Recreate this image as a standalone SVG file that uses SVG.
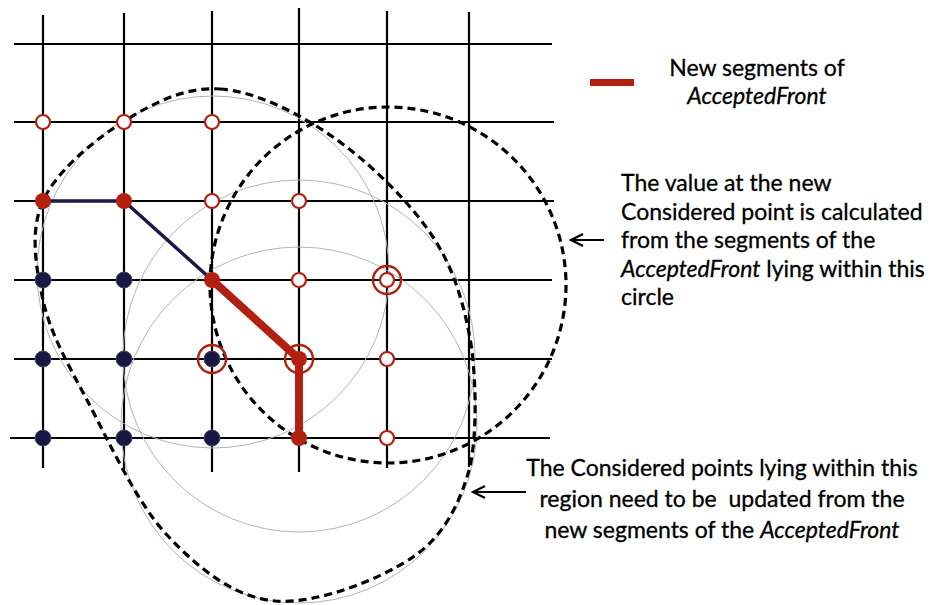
<svg xmlns="http://www.w3.org/2000/svg" width="932" height="605" viewBox="0 0 932 605">
<style>
.grid line{stroke:#000;stroke-width:2.2}
.gray{fill:none;stroke:#b4b4b4;stroke-width:1}
.dash{fill:none;stroke:#000;stroke-width:3.2;stroke-dasharray:8 5}
.open{fill:#fff;stroke:#b3200f;stroke-width:2.2}
.red{fill:#b3200f}
.navy{fill:#1b1744;stroke:#4a4a5a;stroke-width:1}
.ring{fill:none;stroke:#b3200f;stroke-width:2.4}
.txt{font-family:Lato,"Open Sans",sans-serif;font-size:23px;fill:#000;stroke:#000;stroke-width:0.3}
.mid{text-anchor:middle}
.it{font-style:italic}
.arrow{stroke:#000;stroke-width:2.2;fill:none}
</style>
<defs>
<marker id="ah" viewBox="-14 -8 16 16" refX="0" refY="0" markerWidth="16" markerHeight="16" markerUnits="userSpaceOnUse" orient="auto" overflow="visible">
<path d="M-12,-6 L0,0 L-12,6" fill="none" stroke="#000" stroke-width="2.2"/>
</marker>
</defs>
<rect width="932" height="605" fill="#fff"/>
<g id="grid" class="grid">
<line x1="14" y1="44" x2="552" y2="44"/>
<line x1="14" y1="122" x2="554" y2="122"/>
<line x1="14" y1="201" x2="554" y2="201"/>
<line x1="14" y1="280" x2="552" y2="280"/>
<line x1="14" y1="359" x2="552" y2="359"/>
<line x1="10" y1="438" x2="550" y2="438"/>
<line x1="43" y1="15" x2="43" y2="468"/>
<line x1="124" y1="13" x2="124" y2="470"/>
<line x1="212" y1="11" x2="212" y2="472"/>
<line x1="299" y1="8" x2="299" y2="472"/>
<line x1="387" y1="11" x2="387" y2="468"/>
<line x1="469" y1="12" x2="469" y2="467"/>
</g>
<g id="regions">
<circle class="gray" cx="213" cy="272" r="176"/>
<circle class="gray" cx="299" cy="356" r="176"/>
<circle class="gray" cx="299" cy="425" r="178"/>
<path class="dash" d="M220,89 C255,91.5 297.5,112.3 333,137 C368.5,161.7 409.8,201.5 433,237 C456.2,272.5 465.8,311.7 472,350 C476,388 477,432 470,467 C460.2,501.5 445.5,534.7 413,557 C380.5,579.3 316,604.7 275,601 C234,597.3 198.3,568.5 167,535 C135.7,501.5 107.7,439.2 87,400 C66.3,360.8 50.3,333.2 43,300 C35.7,266.8 29.7,230.7 43,201 C56.3,171.3 93.5,140.7 123,122 C152.5,103.3 185,86.5 220,89 Z"/>
<circle class="dash" cx="388" cy="285" r="178"/>
</g>
<g id="connectors">
<path d="M43,201 L124,201 L212,280" fill="none" stroke="#1c1848" stroke-width="3.5" stroke-linejoin="round"/>
<path d="M212,280 L299,359 L299,438" fill="none" stroke="#b3200f" stroke-width="8" stroke-linejoin="round" stroke-linecap="round"/>
<line class="arrow" x1="604" y1="240" x2="571" y2="240" marker-end="url(#ah)"/>
<line class="arrow" x1="526" y1="492" x2="473" y2="492" marker-end="url(#ah)"/>
</g>
<g id="nodes">
<g id="n-43-122"><circle class="open" cx="43" cy="122" r="7"/></g>
<g id="n-124-122"><circle class="open" cx="124" cy="122" r="7"/></g>
<g id="n-212-122"><circle class="open" cx="212" cy="122" r="7"/></g>
<g id="n-43-201"><circle class="red" cx="43" cy="201" r="8"/></g>
<g id="n-124-201"><circle class="red" cx="124" cy="201" r="8"/></g>
<g id="n-212-201"><circle class="open" cx="212" cy="201" r="7"/></g>
<g id="n-299-201"><circle class="open" cx="299" cy="201" r="7"/></g>
<g id="n-43-280"><circle class="navy" cx="43" cy="280" r="8"/></g>
<g id="n-124-280"><circle class="navy" cx="124" cy="280" r="8"/></g>
<g id="n-212-280"><circle class="red" cx="212" cy="280" r="8"/></g>
<g id="n-299-280"><circle class="open" cx="299" cy="280" r="7"/></g>
<g id="n-387-280"><circle class="ring" cx="387" cy="280" r="14"/><circle class="open" cx="387" cy="280" r="7"/></g>
<g id="n-43-359"><circle class="navy" cx="43" cy="359" r="8"/></g>
<g id="n-124-359"><circle class="navy" cx="124" cy="359" r="8"/></g>
<g id="n-212-359"><circle class="ring" cx="212" cy="359" r="14"/><circle class="navy" cx="212" cy="359" r="8"/></g>
<g id="n-299-359"><circle class="ring" cx="299" cy="359" r="14"/><circle class="red" cx="299" cy="359" r="8"/></g>
<g id="n-387-359"><circle class="open" cx="387" cy="359" r="7"/></g>
<g id="n-43-438"><circle class="navy" cx="43" cy="438" r="8"/></g>
<g id="n-124-438"><circle class="navy" cx="124" cy="438" r="8"/></g>
<g id="n-212-438"><circle class="navy" cx="212" cy="438" r="8"/></g>
<g id="n-299-438"><circle class="red" cx="299" cy="438" r="8"/></g>
<g id="n-387-438"><circle class="open" cx="387" cy="438" r="7"/></g>
</g>
<g id="legend">
<rect x="590" y="79" width="44" height="7" fill="#b3200f"/>
<text class="txt mid" x="757" y="76">New segments of</text>
<text class="txt mid it" x="757" y="104">AcceptedFront</text>
</g>
<g id="note-circle">
<text class="txt" x="621" y="191">The value at the new</text>
<text class="txt" x="621" y="219.5">Considered point is calculated</text>
<text class="txt" x="621" y="248">from the segments of the</text>
<text class="txt" x="621" y="276.5"><tspan class="it">AcceptedFront</tspan> lying within this</text>
<text class="txt" x="621" y="305">circle</text>
</g>
<g id="note-region">
<text class="txt mid" x="722" y="476">The Considered points lying within this</text>
<text class="txt mid" x="722" y="507" style="white-space:pre">region need to be  updated from the</text>
<text class="txt mid" x="722" y="538">new segments of the <tspan class="it">AcceptedFront</tspan></text>
</g>
</svg>
